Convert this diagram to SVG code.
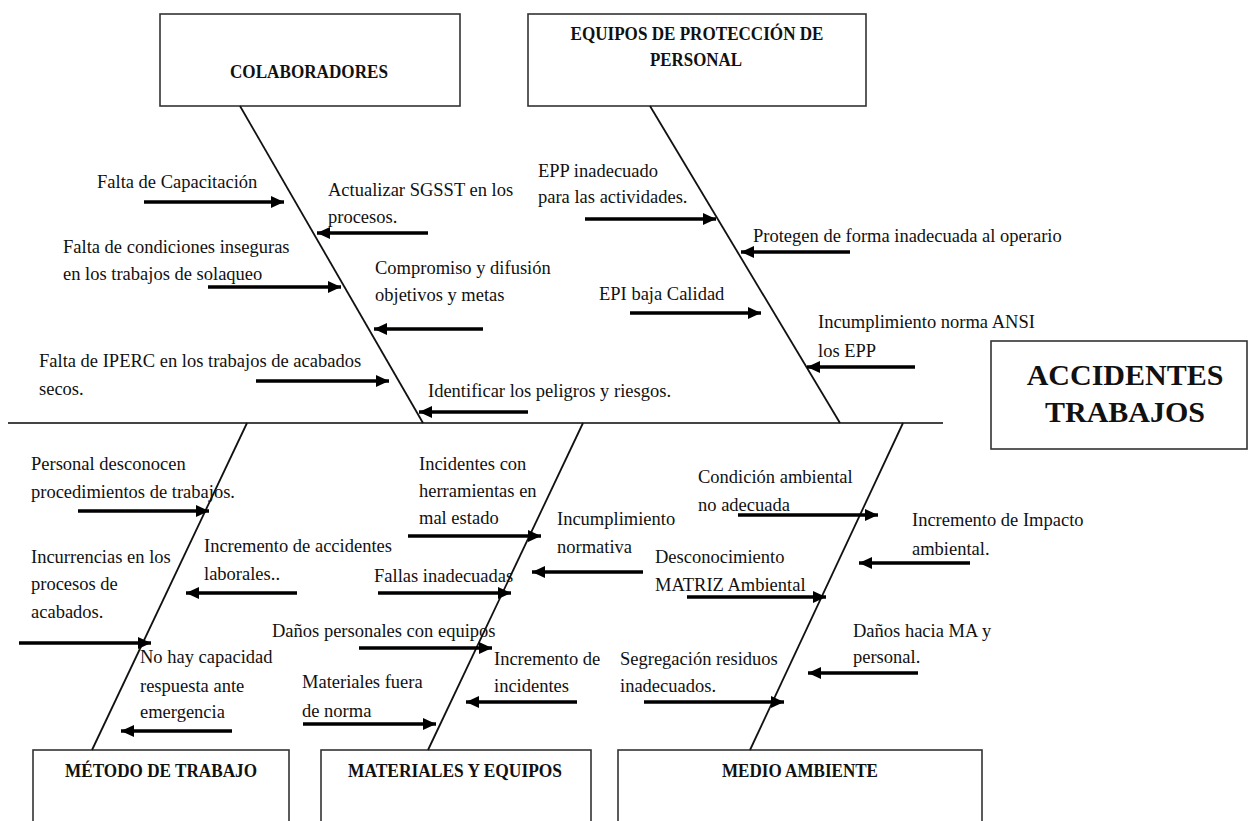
<svg xmlns="http://www.w3.org/2000/svg" width="1249" height="821" viewBox="0 0 1249 821">
<style>
.box{fill:#fff;stroke:#333;stroke-width:1.6}
.hd{font-family:"Liberation Serif",serif;font-weight:bold;font-size:18px;fill:#111;text-anchor:middle}
.big{font-family:"Liberation Serif",serif;font-weight:bold;font-size:30px;fill:#111;text-anchor:middle}
.t{font-family:"Liberation Serif",serif;font-size:18.5px;fill:#111}
.bone{stroke:#111;stroke-width:1.8;fill:none}
.spine{stroke:#444;stroke-width:2;fill:none}
.ar{stroke:#000;stroke-width:3.5;fill:none}
.arR{marker-end:url(#hd)}
</style>
<defs>
<marker id="hd" markerUnits="userSpaceOnUse" markerWidth="14" markerHeight="12" refX="13" refY="6" orient="auto">
<path d="M0,0 L13,6 L0,12 Z" fill="#000"/>
</marker>
</defs>
<rect width="1249" height="821" fill="#fff"/>

<g id="colaboradores">
<rect class="box" x="160" y="14" width="300" height="92"/>
<text class="hd" x="309" y="78" textLength="158" lengthAdjust="spacingAndGlyphs">COLABORADORES</text>
</g>
<g id="epp">
<rect class="box" x="528" y="14" width="338" height="92"/>
<text class="hd" x="697" y="40" textLength="253" lengthAdjust="spacingAndGlyphs">EQUIPOS DE PROTECCIÓN DE</text>
<text class="hd" x="696" y="66" textLength="92" lengthAdjust="spacingAndGlyphs">PERSONAL</text>
</g>
<g id="accidentes">
<rect class="box" x="991" y="341" width="256" height="108"/>
<text class="big" x="1125" y="385">ACCIDENTES</text>
<text class="big" x="1125" y="422">TRABAJOS</text>
</g>
<g id="metodo">
<rect class="box" x="33" y="750" width="256" height="90"/>
<text class="hd" x="161" y="777" textLength="192" lengthAdjust="spacingAndGlyphs">MÉTODO DE TRABAJO</text>
</g>
<g id="materiales">
<rect class="box" x="321" y="750" width="270" height="90"/>
<text class="hd" x="455" y="777" textLength="214" lengthAdjust="spacingAndGlyphs">MATERIALES Y EQUIPOS</text>
</g>
<g id="medio">
<rect class="box" x="618" y="750" width="364" height="90"/>
<text class="hd" x="800" y="777" textLength="156" lengthAdjust="spacingAndGlyphs">MEDIO AMBIENTE</text>
</g>

<g id="connectors">
<line class="spine" x1="8" y1="423" x2="943" y2="423"/>
<line class="bone" x1="240" y1="106" x2="423" y2="423"/>
<line class="bone" x1="650" y1="106" x2="840" y2="423"/>
<line class="bone" x1="247" y1="423" x2="92" y2="750"/>
<line class="bone" x1="583" y1="423" x2="428" y2="750"/>
<line class="bone" x1="903" y1="423" x2="750" y2="750"/>

<line class="ar arR" x1="144" y1="202" x2="284" y2="202"/>
<line class="ar arR" x1="428" y1="233" x2="317" y2="233"/>
<line class="ar arR" x1="208" y1="287" x2="341" y2="287"/>
<line class="ar arR" x1="483" y1="329" x2="374" y2="329"/>
<line class="ar arR" x1="256" y1="381" x2="389" y2="381"/>
<line class="ar arR" x1="528" y1="412" x2="419" y2="412"/>
<line class="ar arR" x1="585" y1="219" x2="716" y2="219"/>
<line class="ar arR" x1="850" y1="252" x2="741" y2="252"/>
<line class="ar arR" x1="630" y1="313" x2="761" y2="313"/>
<line class="ar arR" x1="915" y1="367" x2="807" y2="367"/>

<line class="ar arR" x1="78" y1="511" x2="209" y2="511"/>
<line class="ar arR" x1="19" y1="643" x2="151" y2="643" stroke-width="5"/>
<line class="ar arR" x1="297" y1="593" x2="186" y2="593"/>
<line class="ar arR" x1="232" y1="731" x2="121" y2="731"/>

<line class="ar arR" x1="408" y1="536" x2="541" y2="536"/>
<line class="ar arR" x1="643" y1="572" x2="532" y2="572"/>
<line class="ar arR" x1="378" y1="593" x2="511" y2="593"/>
<line class="ar arR" x1="359" y1="648" x2="492" y2="648"/>
<line class="ar arR" x1="577" y1="702" x2="466" y2="702"/>
<line class="ar arR" x1="303" y1="724" x2="436" y2="724"/>

<line class="ar arR" x1="738" y1="515" x2="878" y2="515"/>
<line class="ar arR" x1="970" y1="563" x2="859" y2="563"/>
<line class="ar arR" x1="687" y1="597" x2="826" y2="597"/>
<line class="ar arR" x1="918" y1="673" x2="808" y2="673"/>
<line class="ar arR" x1="644" y1="702" x2="784" y2="702"/>
</g>

<g id="labels">
<text class="t" x="97" y="188">Falta de Capacitación</text>
<text class="t" x="328" y="196">Actualizar SGSST en los</text>
<text class="t" x="328" y="223">procesos.</text>
<text class="t" x="63" y="253">Falta de condiciones inseguras</text>
<text class="t" x="63" y="280">en los trabajos de solaqueo</text>
<text class="t" x="375" y="274">Compromiso y difusión</text>
<text class="t" x="375" y="301">objetivos y metas</text>
<text class="t" x="39" y="367">Falta de IPERC en los trabajos de acabados</text>
<text class="t" x="39" y="395">secos.</text>
<text class="t" x="428" y="397">Identificar los peligros y riesgos.</text>
<text class="t" x="538" y="177">EPP inadecuado</text>
<text class="t" x="538" y="203">para las actividades.</text>
<text class="t" x="753" y="242">Protegen de forma inadecuada al operario</text>
<text class="t" x="599" y="300">EPI baja Calidad</text>
<text class="t" x="818" y="328">Incumplimiento norma ANSI</text>
<text class="t" x="818" y="357">los EPP</text>

<text class="t" x="31" y="470">Personal desconocen</text>
<text class="t" x="31" y="498">procedimientos de trabajos.</text>
<text class="t" x="31" y="563">Incurrencias en los</text>
<text class="t" x="31" y="590">procesos de</text>
<text class="t" x="31" y="618">acabados.</text>
<text class="t" x="204" y="552">Incremento de accidentes</text>
<text class="t" x="204" y="580">laborales..</text>
<text class="t" x="140" y="663">No hay capacidad</text>
<text class="t" x="140" y="692">respuesta ante</text>
<text class="t" x="140" y="718">emergencia</text>

<text class="t" x="419" y="470">Incidentes con</text>
<text class="t" x="419" y="497">herramientas en</text>
<text class="t" x="419" y="524">mal estado</text>
<text class="t" x="557" y="525">Incumplimiento</text>
<text class="t" x="557" y="553">normativa</text>
<text class="t" x="374" y="582">Fallas inadecuadas</text>
<text class="t" x="272" y="637">Daños personales con equipos</text>
<text class="t" x="494" y="665">Incremento de</text>
<text class="t" x="494" y="692">incidentes</text>
<text class="t" x="302" y="688">Materiales fuera</text>
<text class="t" x="302" y="717">de norma</text>

<text class="t" x="698" y="483">Condición ambiental</text>
<text class="t" x="698" y="511">no adecuada</text>
<text class="t" x="912" y="526">Incremento de Impacto</text>
<text class="t" x="912" y="555">ambiental.</text>
<text class="t" x="655" y="563">Desconocimiento</text>
<text class="t" x="655" y="591">MATRIZ Ambiental</text>
<text class="t" x="853" y="637">Daños hacia MA y</text>
<text class="t" x="853" y="663">personal.</text>
<text class="t" x="620" y="665">Segregación residuos</text>
<text class="t" x="620" y="692">inadecuados.</text>
</g>
</svg>
